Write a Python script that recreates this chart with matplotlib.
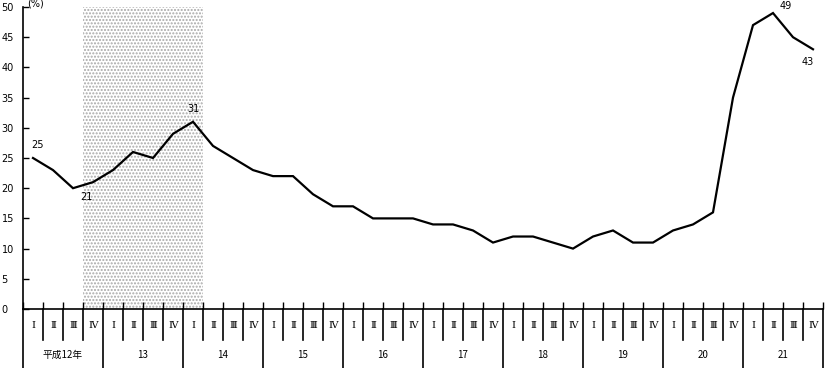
import matplotlib
matplotlib.use("Agg")
import matplotlib.pyplot as plt

years = ["平成12年", "13", "14", "15", "16", "17", "18", "19", "20", "21"]
quarters = ["Ⅰ", "Ⅱ", "Ⅲ", "Ⅳ"]
values = [25, 23, 20, 21,
          23, 26, 25, 29,
          31, 27, 25, 23,
          22, 22, 19, 17,
          17, 15, 15, 15,
          14, 14, 13, 11,
          12, 12, 11, 10,
          12, 13, 11, 11,
          13, 14, 16, 35,
          47, 49, 45, 43]
shade_start, shade_end = 3, 9   # quarter index range of shaded period
annotations = [(0, "25"), (3, "21"), (8, "31"), (37, "49"), (39, "43")]
yticks = [0, 5, 10, 15, 20, 25, 30, 35, 40, 45, 50]

plt.rcParams['font.family'] = ['DejaVu Sans', 'Noto Sans CJK JP']

W, H = 825, 368
fig = plt.figure(figsize=(W / 100, H / 100), dpi=100)
ax = fig.add_axes([23 / W, 59 / H, 800 / W, 302 / H])

n = len(values)
xs = [i + 0.5 for i in range(n)]

ax.axvspan(shade_start, shade_end, ymin=0, ymax=1, facecolor='white',
           hatch='.....', edgecolor='#a8a8a8', linewidth=0, zorder=0)

ax.plot(xs, values, color='black', linewidth=1.6, solid_joinstyle='miter', zorder=3)

offsets = {0: (5, 8, 'center', 'bottom'), 3: (-7, -10, 'center', 'top'),
           8: (0, 8, 'center', 'bottom'), 37: (13, 2, 'center', 'bottom'),
           39: (-5, -8, 'center', 'top')}
for idx, txt in annotations:
    dx, dy, ha, va = offsets[idx]
    ax.annotate(txt, (xs[idx], values[idx]), xytext=(dx, dy),
                textcoords='offset pixels', ha=ha, va=va, fontsize=7)

ax.set_xlim(0, n)
ax.set_ylim(0, 50)
ax.set_yticks(yticks)
ax.set_xticks(range(n + 1))
ax.set_xticklabels([])
ax.tick_params(axis='y', direction='in', length=4, width=1, labelsize=7, pad=15.5)
ax.tick_params(axis='x', direction='in', length=5, width=1)
for lab in ax.get_yticklabels():
    lab.set_horizontalalignment('left')
for s in ['top', 'right']:
    ax.spines[s].set_visible(False)
for s in ['left', 'bottom']:
    ax.spines[s].set_linewidth(1.2)

ax.text(0.2, 50.5, "(%)", fontsize=7, ha='left', va='center')

tr = ax.get_xaxis_transform()
q_bottom = -31 / 302
y_bottom = -59 / 302
for b in range(n + 1):
    yb = y_bottom if b % 4 == 0 else q_bottom
    ax.plot([b, b], [0, yb], transform=tr, color='black', linewidth=1.2,
            clip_on=False)
for i in range(n):
    ax.text(i + 0.5, -16 / 302, quarters[i % 4], transform=tr, ha='center',
            va='center', fontsize=7, family=['DejaVu Serif', 'Noto Sans CJK JP'])
for j, y in enumerate(years):
    ax.text(j * 4 + 2, -46 / 302, y, transform=tr, ha='center', va='center',
            fontsize=7, family=['Noto Sans CJK JP', 'DejaVu Sans'])

fig.savefig("out.png", dpi=100)
